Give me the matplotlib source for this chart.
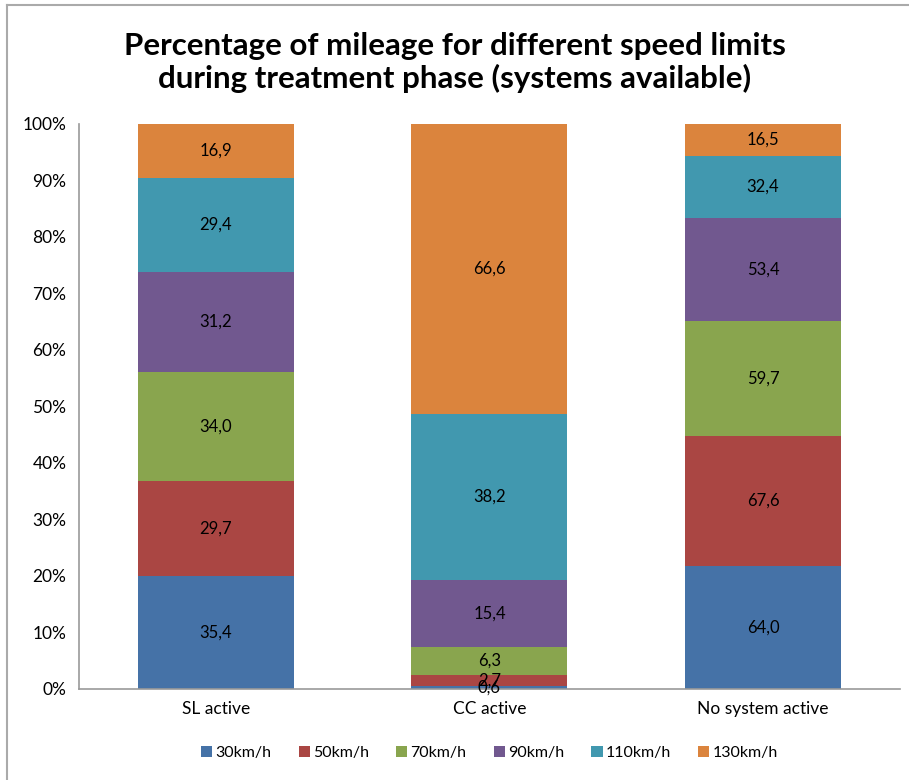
import numpy as np
import matplotlib
matplotlib.use("Agg")
import matplotlib.pyplot as plt
from matplotlib.lines import Line2D

plt.rcParams['font.family'] = ['Lato', 'DejaVu Sans']

# data (mileage per speed limit, absolute values as labelled)
groups = ["SL active", "CC active", "No system active"]
speeds = ["30km/h", "50km/h", "70km/h", "90km/h", "110km/h", "130km/h"]
values = {
    "30km/h":  [35.4, 0.6, 64.0],
    "50km/h":  [29.7, 2.7, 67.6],
    "70km/h":  [34.0, 6.3, 59.7],
    "90km/h":  [31.2, 15.4, 53.4],
    "110km/h": [29.4, 38.2, 32.4],
    "130km/h": [16.9, 66.6, 16.5],
}
colors = ["#4572A7", "#AA4643", "#89A54E", "#71588F", "#4198AF", "#DB843D"]

fig = plt.figure(figsize=(9.09, 7.80), dpi=100)
ax = fig.add_axes([0.0869, 0.1167, 0.9031, 0.7244])

x = np.arange(len(groups))
totals = np.sum([values[s] for s in speeds], axis=0)
bottom = np.zeros(len(groups))
for s, c in zip(speeds, colors):
    v = np.array(values[s])
    pct = v / totals * 100
    ax.bar(x, pct, 0.57, bottom=bottom, color=c, label=s)
    for xi, b, p, val in zip(x, bottom, pct, v):
        ax.text(xi, b + p / 2, f"{val:.1f}".replace(".", ","),
                ha="center", va="center", fontsize=12, color="black")
    bottom += pct

ax.set_xlim(-0.5, 2.5)
ax.set_ylim(0, 100)
ax.set_yticks(np.arange(0, 101, 10))
ax.set_yticklabels([f"{t}%" for t in range(0, 101, 10)], fontsize=12.5)
ax.set_xticks(x)
ax.set_xticklabels(groups, fontsize=12.5)
ax.tick_params(axis="both", length=0, pad=9)
for side in ["top", "right"]:
    ax.spines[side].set_visible(False)
for side in ["left", "bottom"]:
    ax.spines[side].set_color("#999999")
    ax.spines[side].set_linewidth(1.2)

fig.text(0.5, 0.92, "Percentage of mileage for different speed limits\nduring treatment phase (systems available)",
         ha="center", va="center", fontsize=22.5, fontweight="bold", linespacing=1.15)

ax.legend(loc="center", bbox_to_anchor=(0.5, -0.113), ncol=6, frameon=False,
          fontsize=11.5, handlelength=0.7, handleheight=0.7, handletextpad=0.2,
          columnspacing=1.7)

# outer chart border (top and left edges visible)
fig.add_artist(Line2D([0.0077, 0.0077], [0, 0.9936], color="#AAAAAA", lw=1.5, transform=fig.transFigure))
fig.add_artist(Line2D([0.0077, 1.0], [0.9936, 0.9936], color="#AAAAAA", lw=1.5, transform=fig.transFigure))

fig.savefig("out.png", dpi=100)
